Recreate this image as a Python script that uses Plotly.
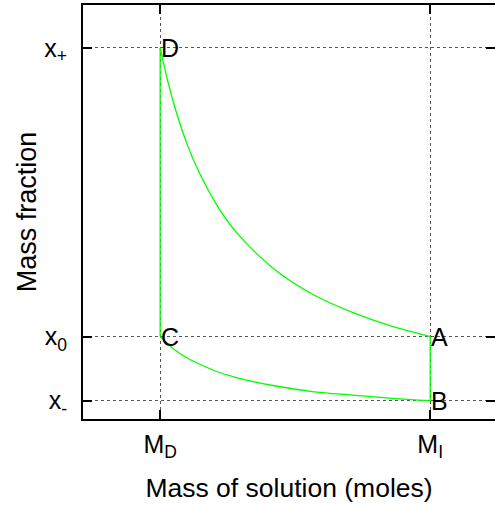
import plotly.graph_objects as go

# Key values (axes units)
M_D = 1.0
M_I = 4.5
x_minus = 0.222
x_zero = 1.0
x_plus = 4.5

x_tickvals = [M_D, M_I]
x_ticktext = ["M<sub>D</sub>", "M<sub>I</sub>"]
y_tickvals = [x_minus, x_zero, x_plus]
y_ticktext = ["x<sub>-</sub>", "x<sub>0</sub>", "x<sub>+</sub>"]

# Upper curve D -> A
upper_M = [1.0, 1.1, 1.2, 1.35, 1.5, 1.75, 2.0, 2.5, 3.0, 3.5, 4.0, 4.5]
upper_x = [4.5, 4.09, 3.75, 3.33, 3.0, 2.57, 2.25, 1.8, 1.5, 1.29, 1.125, 1.0]
# Lower curve C -> B
lower_M = [1.0, 1.1, 1.2, 1.35, 1.5, 1.75, 2.0, 2.5, 3.0, 3.5, 4.0, 4.5]
lower_x = [1.0, 0.91, 0.83, 0.74, 0.67, 0.57, 0.5, 0.4, 0.33, 0.29, 0.25, 0.222]

point_names = ["A", "B", "C", "D"]
point_M = [M_I, M_I, M_D, M_D]
point_x = [x_zero, x_minus, x_zero, x_plus]

GREEN = "#00ff00"
FONT = "Liberation Sans, Arial, sans-serif"

fig = go.Figure()
line = dict(color=GREEN, width=1.3)
fig.add_trace(go.Scatter(x=upper_M, y=upper_x, mode="lines", line=dict(shape="spline", **line)))
fig.add_trace(go.Scatter(x=lower_M, y=lower_x, mode="lines", line=dict(shape="spline", **line)))
fig.add_trace(go.Scatter(x=[M_D, M_D], y=[x_plus, x_zero], mode="lines", line=line))
fig.add_trace(go.Scatter(x=[M_I, M_I], y=[x_zero, x_minus], mode="lines", line=line))
# invisible trace on right axis for mirrored ticks
fig.add_trace(go.Scatter(x=[M_D], y=[x_zero], yaxis="y2", mode="markers",
                         marker=dict(opacity=0), hoverinfo="skip"))

for name, mx, yx in zip(point_names, point_M, point_x):
    fig.add_annotation(x=mx, y=yx, text=name, showarrow=False, xanchor="left",
                       yanchor="middle", xshift=-1, font=dict(family=FONT, size=25, color="black"))

fig.update_layout(
    width=495, height=508,
    margin=dict(l=83, r=0, t=5, b=89, autoexpand=False),
    plot_bgcolor="white", paper_bgcolor="white",
    showlegend=False,
    font=dict(family=FONT, size=25, color="black"),
    xaxis=dict(
        range=[0, 5.34], tickvals=x_tickvals, ticktext=x_ticktext,
        ticks="inside", ticklen=9, tickwidth=2, tickcolor="black",
        showline=True, linewidth=2, linecolor="black", mirror="ticks",
        showgrid=True, gridcolor="#555", griddash="dot", gridwidth=1,
        zeroline=False, ticklabelstandoff=2,
        title=dict(text="Mass of solution (moles)", standoff=17,
                   font=dict(family=FONT, size=26.5)),
    ),
    yaxis=dict(
        range=[0, 5.02], tickvals=y_tickvals, ticktext=y_ticktext,
        ticks="inside", ticklen=9, tickwidth=2, tickcolor="black",
        showline=True, linewidth=2, linecolor="black", mirror=False,
        showgrid=True, gridcolor="#555", griddash="dot", gridwidth=1,
        zeroline=False, ticklabelstandoff=9,
        title=dict(text="Mass fraction", standoff=0, font=dict(family=FONT, size=27)),
    ),
    yaxis2=dict(
        overlaying="y", side="right", range=[0, 5.02], tickvals=y_tickvals,
        ticktext=["", "", ""], ticks="inside", ticklen=9, tickwidth=2, tickcolor="black",
        showline=False, showgrid=False, zeroline=False,
    ),
)

fig.write_html("out.html", config={"displayModeBar": False},
               post_script="document.body.style.margin='0';document.body.style.overflow='hidden';")
